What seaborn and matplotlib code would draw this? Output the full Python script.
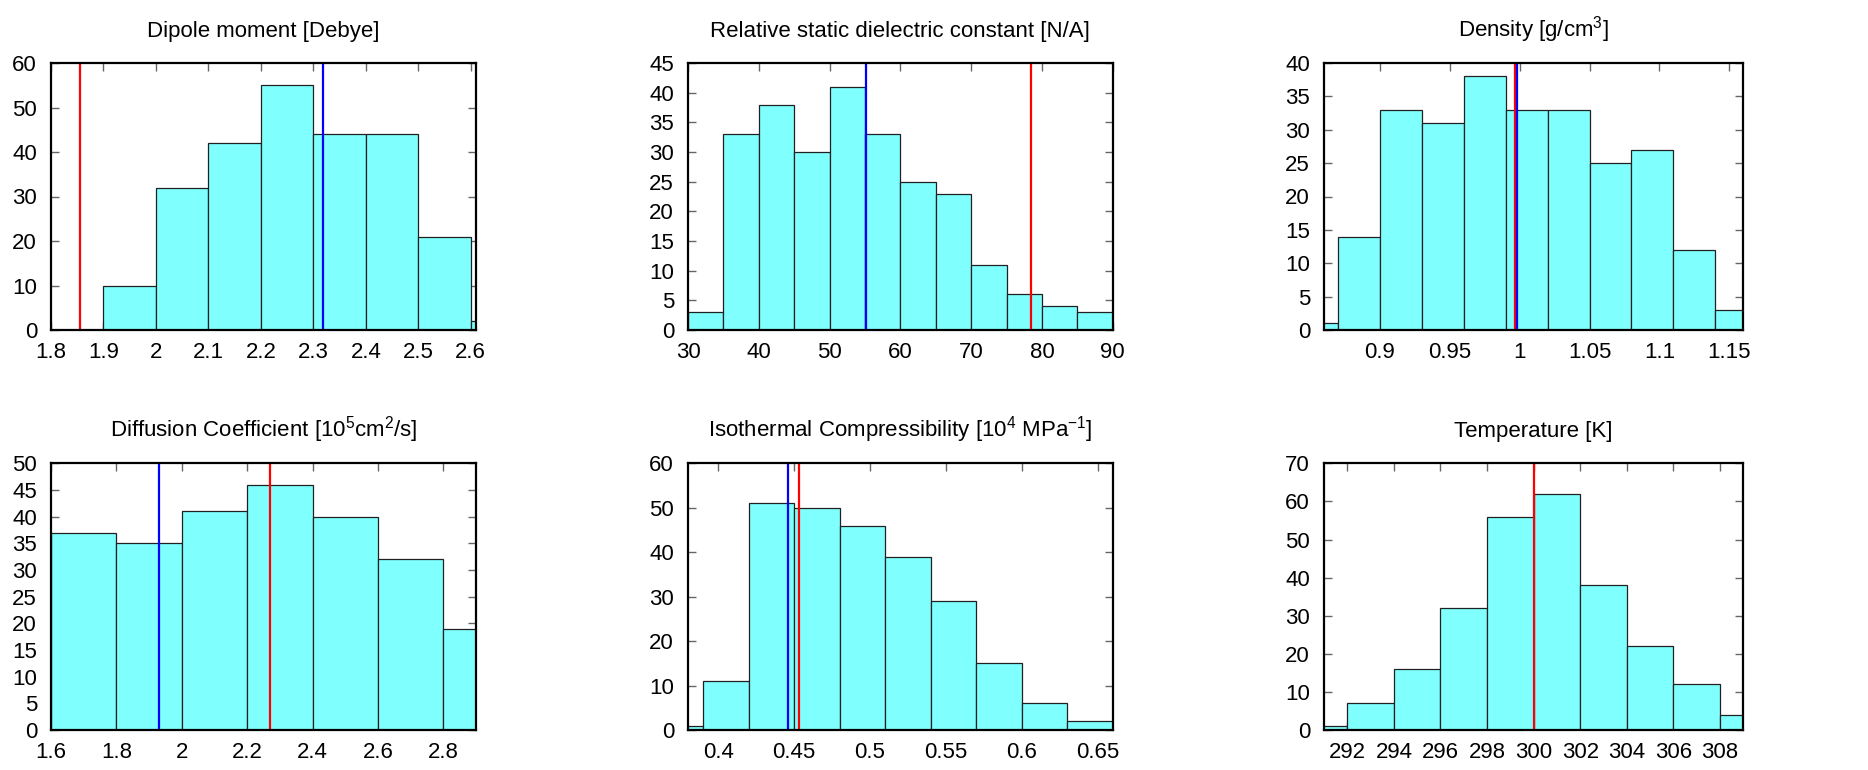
import numpy as np
import pandas as pd
import matplotlib
matplotlib.use("Agg")
import matplotlib.pyplot as plt
from matplotlib.ticker import FuncFormatter
import seaborn as sns

sns.set_theme(style="ticks")
plt.rcParams['font.family'] = ['Liberation Sans', 'DejaVu Sans']
plt.rcParams['mathtext.fontset'] = 'custom'
plt.rcParams['mathtext.rm'] = 'Liberation Sans'
plt.rcParams['mathtext.it'] = 'Liberation Sans:italic'
plt.rcParams['mathtext.bf'] = 'Liberation Sans:bold'
plt.rcParams['xtick.labelsize'] = 16
plt.rcParams['ytick.labelsize'] = 16

# ---------------- data ----------------
titles = [
    "Dipole moment [Debye]",
    "Relative static dielectric constant [N/A]",
    r"Density [g/cm$^3$]",
    r"Diffusion Coefficient [10$^5$cm$^2$/s]",
    r"Isothermal Compressibility [10$^4$ MPa$^{\mathrm{-1}}$]",
    "Temperature [K]",
]

dipole_edges = [1.8, 1.9, 2.0, 2.1, 2.2, 2.3, 2.4, 2.5, 2.6, 2.7]
dipole_counts = [0, 10, 32, 42, 55, 44, 44, 21, 2]

diel_edges = [30, 35, 40, 45, 50, 55, 60, 65, 70, 75, 80, 85, 90]
diel_counts = [3, 33, 38, 30, 41, 33, 25, 23, 11, 6, 4, 3]

dens_edges = [0.84, 0.87, 0.90, 0.93, 0.96, 0.99, 1.02, 1.05, 1.08, 1.11, 1.14, 1.17]
dens_counts = [1, 14, 33, 31, 38, 33, 33, 25, 27, 12, 3]

diff_edges = [1.6, 1.8, 2.0, 2.2, 2.4, 2.6, 2.8, 3.0]
diff_counts = [37, 35, 41, 46, 40, 32, 19]

comp_edges = [0.36, 0.39, 0.42, 0.45, 0.48, 0.51, 0.54, 0.57, 0.60, 0.63, 0.66]
comp_counts = [1, 11, 51, 50, 46, 39, 29, 15, 6, 2]

temp_edges = [290, 292, 294, 296, 298, 300, 302, 304, 306, 308, 310]
temp_counts = [1, 7, 16, 32, 56, 62, 38, 22, 12, 4]

# reference (red) and model (blue) values
red_values = [1.855, 78.4, 0.9967, 2.27, 0.453, 300.0]
blue_values = [2.318, 55.2, 0.998, 1.93, 0.446, None]

xlims = [(1.8, 2.61), (30, 90), (0.86, 1.16), (1.6, 2.9), (0.38, 0.66), (291, 309)]
ylims = [(0, 60), (0, 45), (0, 40), (0, 50), (0, 60), (0, 70)]

xticks = [
    [1.8, 1.9, 2.0, 2.1, 2.2, 2.3, 2.4, 2.5, 2.6],
    [30, 40, 50, 60, 70, 80, 90],
    [0.9, 0.95, 1.0, 1.05, 1.1, 1.15],
    [1.6, 1.8, 2.0, 2.2, 2.4, 2.6, 2.8],
    [0.4, 0.45, 0.5, 0.55, 0.6, 0.65],
    [292, 294, 296, 298, 300, 302, 304, 306, 308],
]
yticks = [
    [0, 10, 20, 30, 40, 50, 60],
    [0, 5, 10, 15, 20, 25, 30, 35, 40, 45],
    [0, 5, 10, 15, 20, 25, 30, 35, 40],
    [0, 5, 10, 15, 20, 25, 30, 35, 40, 45, 50],
    [0, 10, 20, 30, 40, 50, 60],
    [0, 10, 20, 30, 40, 50, 60, 70],
]

all_edges = [dipole_edges, diel_edges, dens_edges, diff_edges, comp_edges, temp_edges]
all_counts = [dipole_counts, diel_counts, dens_counts, diff_counts, comp_counts, temp_counts]

# ---------------- layout ----------------
W, H = 1868, 770
fig = plt.figure(figsize=(W / 100, H / 100), dpi=100)

col_px = [(51, 476), (688, 1112.7), (1324, 1743.3)]
row_px = [(63, 330), (463.3, 730)]

fill = "#80ffff"
fmt = FuncFormatter(lambda v, p: f"{v:g}")

for i in range(6):
    r, c = divmod(i, 3)
    x0, x1 = col_px[c]
    y0, y1 = row_px[r]
    ax = fig.add_axes([x0 / W, 1 - y1 / H, (x1 - x0) / W, (y1 - y0) / H])

    edges = list(all_edges[i])
    centers = [(a + b) / 2 for a, b in zip(edges[:-1], edges[1:])]
    df = pd.DataFrame({"value": centers, "count": all_counts[i]})
    sns.histplot(data=df, x="value", weights="count", bins=edges, ax=ax,
                 color=fill, alpha=1.0, edgecolor="#202020", linewidth=0.9,
                 zorder=2)

    ax.axvline(red_values[i], color="#ff0000", lw=1.6, zorder=3)
    if blue_values[i] is not None:
        ax.axvline(blue_values[i], color="#0000ff", lw=1.6, zorder=4)

    ax.set_xlim(*xlims[i])
    ax.set_ylim(*ylims[i])
    ax.set_xticks(xticks[i])
    ax.set_yticks(yticks[i])
    ax.xaxis.set_major_formatter(fmt)
    ax.yaxis.set_major_formatter(fmt)
    ax.set_xlabel("")
    ax.set_ylabel("")
    ax.grid(False)
    ax.tick_params(axis="both", which="major", direction="in", top=True,
                   right=True, length=5.5, width=1, color="#666666",
                   labelcolor="black", labelsize=16)
    ax.tick_params(axis="x", pad=9)
    ax.tick_params(axis="y", pad=10)
    for s in ax.spines.values():
        s.set_visible(True)
        s.set_color("black")
        s.set_linewidth(1.6)
        s.set_zorder(5)
    ax.set_title(titles[i], fontsize=16, pad=19, color="black")

fig.savefig("out.png", dpi=100)
